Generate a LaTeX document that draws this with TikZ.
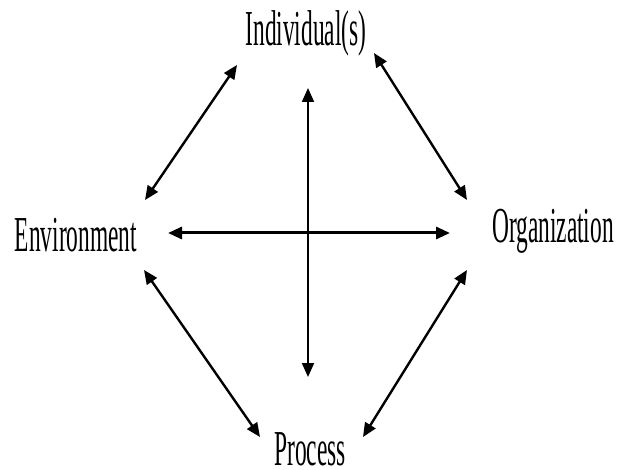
\documentclass[tikz,border=0pt]{standalone}
\usepackage{fontspec}
\setmainfont{Liberation Serif}
\usetikzlibrary{arrows.meta}
\begin{document}
\begin{tikzpicture}[x=1pt,y=-1pt,
  lbl/.style={anchor=base,inner sep=0pt,font=\fontsize{23.4}{24}\selectfont},
  dbl/.style={{Triangle[length=14pt,width=12pt]}-{Triangle[length=14pt,width=12pt]},line width=2.4pt},
]
\useasboundingbox (0,0) rectangle (618,470);
\node[lbl] (ind) at (306,46) {\scalebox{1}[2.15]{Individual(s)}};
\node[lbl] (env) at (76,252) {\scalebox{1}[2.15]{Environment}};
\node[lbl] (org) at (553,243) {\scalebox{1}[2.15]{Organization}};
\node[lbl] (pro) at (310,465) {\scalebox{1}[2.15]{Process}};
\coordinate (a1) at (237,65);  \coordinate (a2) at (145,200);
\coordinate (b1) at (374,53);  \coordinate (b2) at (467,200);
\coordinate (c1) at (144,270); \coordinate (c2) at (260,437);
\coordinate (d1) at (467,270); \coordinate (d2) at (363,437);
\coordinate (h1) at (168,233); \coordinate (h2) at (450,233);
\coordinate (v1) at (308,88);  \coordinate (v2) at (308,377);
\draw[dbl] (a1) -- (a2);
\draw[dbl] (b1) -- (b2);
\draw[dbl] (c1) -- (c2);
\draw[dbl] (d1) -- (d2);
\draw[dbl,line width=3pt] (h1) -- (h2);
\draw[dbl,line width=2pt] (v1) -- (v2);
\end{tikzpicture}
\end{document}
